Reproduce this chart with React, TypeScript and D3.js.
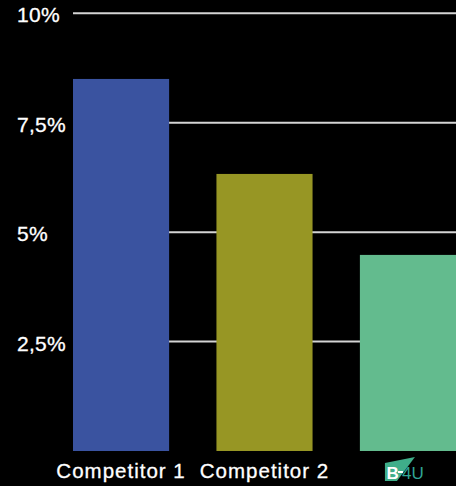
import React, { useEffect, useRef } from 'react';
import * as d3 from 'd3';

const categories = ['Competitor 1', 'Competitor 2', 'B4U'];
const values = [8.5, 6.33, 4.48];
const barColors = ['#3a53a0', '#979624', '#63bb8e'];
const yTicks = [2.5, 5, 7.5, 10];
const tickLabels = ['2,5%', '5%', '7,5%', '10%'];

const WIDTH = 456;
const HEIGHT = 486;

const App: React.FC = () => {
  const svgRef = useRef<SVGSVGElement | null>(null);

  useEffect(() => {
    if (!svgRef.current) return;
    document.body.style.margin = '0';
    document.body.style.background = '#000';

    const svg = d3.select(svgRef.current);
    svg.selectAll('*').remove();

    const xScale = d3.scaleBand()
      .domain(categories)
      .range([73, 456])
      .paddingInner(0.33)
      .paddingOuter(0);

    const yScale = d3.scaleLinear()
      .domain([0, 10])
      .range([451, 13.3]);

    svg.append('rect')
      .attr('width', WIDTH)
      .attr('height', HEIGHT)
      .attr('fill', '#000');

    // gridlines sit behind the bars
    svg.append('g')
      .selectAll('line')
      .data(yTicks)
      .enter().append('line')
      .attr('x1', 73)
      .attr('x2', WIDTH)
      .attr('y1', d => yScale(d))
      .attr('y2', d => yScale(d))
      .attr('stroke', '#d4d4d4')
      .attr('stroke-width', 2);

    svg.append('g')
      .selectAll('text')
      .data(yTicks)
      .enter().append('text')
      .attr('x', 17)
      .attr('y', d => yScale(d) + 9)
      .attr('fill', '#fff')
      .attr('stroke', '#fff')
      .attr('stroke-width', 0.3)
      .attr('font-family', 'Liberation Sans, Arial, sans-serif')
      .attr('font-size', '21px')
      .attr('letter-spacing', '0.3px')
      .text((d, i) => tickLabels[i]);

    svg.append('g')
      .selectAll('rect')
      .data(values)
      .enter().append('rect')
      .attr('x', (d, i) => xScale(categories[i])!)
      .attr('y', d => yScale(d))
      .attr('width', xScale.bandwidth())
      .attr('height', d => yScale(0) - yScale(d))
      .attr('fill', (d, i) => barColors[i]);

    // category labels (the last one is the brand logo)
    svg.append('g')
      .selectAll('text')
      .data(categories.slice(0, 2))
      .enter().append('text')
      .attr('x', d => xScale(d)! + xScale.bandwidth() / 2)
      .attr('y', 478)
      .attr('text-anchor', 'middle')
      .attr('fill', '#fff')
      .attr('stroke', '#fff')
      .attr('stroke-width', 0.3)
      .attr('font-family', 'Liberation Sans, Arial, sans-serif')
      .attr('font-size', '20.5px')
      .attr('letter-spacing', '1px')
      .text(d => d);

    const logo = svg.append('g')
      .attr('transform', `translate(${xScale('B4U')! + xScale.bandwidth() / 2 - 23},0)`);
    logo.append('path')
      .attr('d', 'M0,463 L30,457 L12,481 L0,481 Z')
      .attr('fill', '#3fae8a');
    logo.append('text')
      .attr('x', 1.5)
      .attr('y', 479)
      .attr('fill', '#fff')
      .attr('font-family', 'Liberation Sans, Arial, sans-serif')
      .attr('font-weight', 'bold')
      .attr('font-size', '17px')
      .text('B');
    logo.append('line')
      .attr('x1', 13)
      .attr('x2', 18)
      .attr('y1', 472)
      .attr('y2', 472)
      .attr('stroke', '#fff')
      .attr('stroke-width', 2);
    logo.append('text')
      .attr('x', 17)
      .attr('y', 479)
      .attr('fill', '#2fa595')
      .attr('font-family', 'Liberation Sans, Arial, sans-serif')
      .attr('font-weight', '300')
      .attr('font-size', '17px')
      .text('4U');
  }, []);

  return (
    <svg
      ref={svgRef}
      width={WIDTH}
      height={HEIGHT}
      style={{ position: 'absolute', left: 0, top: 0, display: 'block' }}
    />
  );
};

export default App;
